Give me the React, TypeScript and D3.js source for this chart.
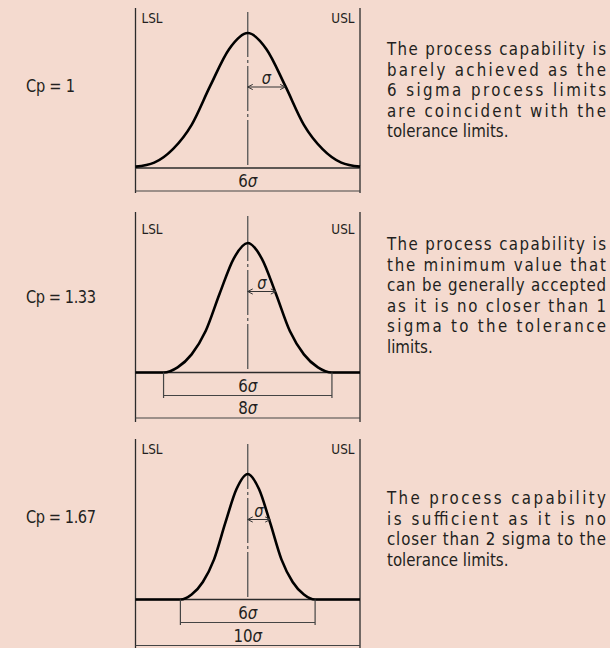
import React from 'react';
import * as d3 from 'd3';

// labels on the left of each panel
const panelNames = ['Cp = 1', 'Cp = 1.33', 'Cp = 1.67'];
// tolerance width (USL - LSL) in sigma for each panel
const toleranceSigma = [6, 8, 10];
// bell curve: position in sigma, relative height
const bellZ = [-3, -2.5, -2, -1.5, -1, -0.5, 0, 0.5, 1, 1.5, 2, 2.5, 3];
const bellHeight = [0.01, 0.04, 0.14, 0.32, 0.61, 0.88, 1, 0.88, 0.61, 0.32, 0.14, 0.04, 0.01];
const processSigma = 6;
const descriptions = [
  ['The process capability is', 'barely achieved as the', '6 sigma process limits', 'are coincident with the', 'tolerance limits.'],
  ['The process capability is', 'the minimum value that', 'can be generally accepted', 'as it is no closer than 1', 'sigma to the tolerance', 'limits.'],
  ['The process capability', 'is sufficient as it is no', 'closer than 2 sigma to the', 'tolerance limits.'],
];

const W = 610;
const H = 648;
const FONT = '"DejaVu Sans", "Open Sans", sans-serif';
const BG = '#f4dacf';
const INK = '#231f20';
const SX = 0.86; // horizontal squeeze to mimic the condensed face

// vertical layout of every panel
const layout = [
  { top: 8, bottom: 193, base: 168, peak: 33, centerTop: 12, arrow: 87, dims: [191], text: 55, label: 92, limit: 23 },
  { top: 212, bottom: 422, base: 372.5, peak: 243, centerTop: 216, arrow: 291.5, dims: [395.5, 418], text: 250, label: 303, limit: 234 },
  { top: 439, bottom: 648, base: 599.5, peak: 474, centerTop: 444, arrow: 519.5, dims: [622.5, 645.5], text: 504, label: 523, limit: 454 },
];
const LSL_X = 135.5;
const USL_X = 360;
const TEXT_X = 387;
const TEXT_W = 219;
const LINE_H = 20.5;

function CText({ x, y, size, width, anchor, children, italic }:
  { x: number; y: number; size: number; width?: number; anchor?: string; children: React.ReactNode; italic?: boolean }) {
  return (
    <text
      transform={`translate(${x},${y}) scale(${SX},1)`}
      fontSize={size}
      fill={INK}
      fontFamily={FONT}
      fontStyle={italic ? 'italic' : undefined}
      textAnchor={anchor}
      textLength={width ? width / SX : undefined}
      lengthAdjust={width ? 'spacing' : undefined}
    >
      {children}
    </text>
  );
}

function Panel({ i }: { i: number }) {
  const L = layout[i];
  const half = toleranceSigma[i] / 2;
  const x = d3.scaleLinear().domain([-half, half]).range([LSL_X, USL_X]);
  const y = d3.scaleLinear().domain([0, 1]).range([L.base, L.peak]);

  const pts: [number, number][] = bellZ.map((z, k) => [z, bellHeight[k]]);
  if (half > 3) {
    // flat tails out to the limits, the curve starts at +-3 sigma
    pts[0] = [-3, 0];
    pts[pts.length - 1] = [3, 0];
    pts.unshift([-half, 0]);
    pts.push([half, 0]);
  }
  const line = d3.line<[number, number]>()
    .curve(d3.curveMonotoneX)
    .x((d) => x(d[0]))
    .y((d) => y(d[1]));

  const x0 = x(0);
  const x1 = x(1);
  const ah = 5;
  const aw = 2.6;
  const arrowPath = `M${x0},${L.arrow}H${x1}M${x0 + ah},${L.arrow - aw}L${x0},${L.arrow}L${x0 + ah},${L.arrow + aw}` +
    `M${x1 - ah},${L.arrow - aw}L${x1},${L.arrow}L${x1 - ah},${L.arrow + aw}`;

  const lines = descriptions[i];
  const nameW = panelNames[i].length > 6 ? 70 : 49;

  return (
    <g>
      <CText x={26} y={L.label} size={17} width={nameW}>{panelNames[i]}</CText>

      {/* tolerance limits */}
      <line x1={LSL_X} x2={LSL_X} y1={L.top} y2={L.bottom} stroke="#2b2b2b" strokeWidth={1.3} />
      <line x1={USL_X} x2={USL_X} y1={L.top} y2={L.bottom} stroke="#2b2b2b" strokeWidth={1.3} />
      <CText x={LSL_X + 6} y={L.limit} size={14}>LSL</CText>
      <CText x={USL_X - 5.5} y={L.limit} size={14} anchor="end">USL</CText>

      {/* baseline */}
      <line x1={LSL_X} x2={USL_X} y1={L.base} y2={L.base} stroke="#2b2b2b" strokeWidth={1.3} />

      {/* centre line */}
      <line x1={x0} x2={x0} y1={L.centerTop} y2={L.base - 1} stroke="#555" strokeWidth={1.3} strokeDasharray="45,3,3,3" />

      {/* curve */}
      <path d={line(pts) || ''} fill="none" stroke="#000" strokeWidth={2.6} strokeLinejoin="round" />

      {/* sigma arrow */}
      <path d={arrowPath} fill="none" stroke="#333" strokeWidth={1} />
      <CText x={(x0 + x1) / 2} y={L.arrow - 3} size={17} anchor="middle" italic>σ</CText>

      {/* dimension lines */}
      {half > 3 ? (
        <g>
          <path
            d={`M${x(-3)},${L.base}V${L.dims[0] + 2.5}M${x(3)},${L.base}V${L.dims[0] + 2.5}M${x(-3)},${L.dims[0]}H${x(3)}`}
            fill="none" stroke="#444" strokeWidth={1.2} />
          <CText x={x0} y={L.dims[0] - 4} size={17.5} anchor="middle">{processSigma}<tspan fontStyle="italic">σ</tspan></CText>
          <line x1={LSL_X} x2={USL_X} y1={L.dims[1]} y2={L.dims[1]} stroke="#444" strokeWidth={1.2} />
          <CText x={x0} y={L.dims[1] - 4} size={17.5} anchor="middle">{toleranceSigma[i]}<tspan fontStyle="italic">σ</tspan></CText>
        </g>
      ) : (
        <g>
          <line x1={LSL_X} x2={USL_X} y1={L.dims[0]} y2={L.dims[0]} stroke="#444" strokeWidth={1.2} />
          <CText x={x0} y={L.dims[0] - 4} size={17.5} anchor="middle">{toleranceSigma[i]}<tspan fontStyle="italic">σ</tspan></CText>
        </g>
      )}

      {/* description, justified */}
      {lines.map((t, k) => {
        const last = k === lines.length - 1;
        return (
          <CText key={k} x={TEXT_X} y={L.text + k * LINE_H} size={17.5} width={last ? undefined : TEXT_W}>
            {t}
          </CText>
        );
      })}
    </g>
  );
}

export default function App() {
  return (
    <svg width={W} height={H} style={{ position: 'absolute', left: 0, top: 0, display: 'block' }}>
      <rect width={W} height={H} fill={BG} />
      {layout.map((_, i) => <Panel key={i} i={i} />)}
    </svg>
  );
}
